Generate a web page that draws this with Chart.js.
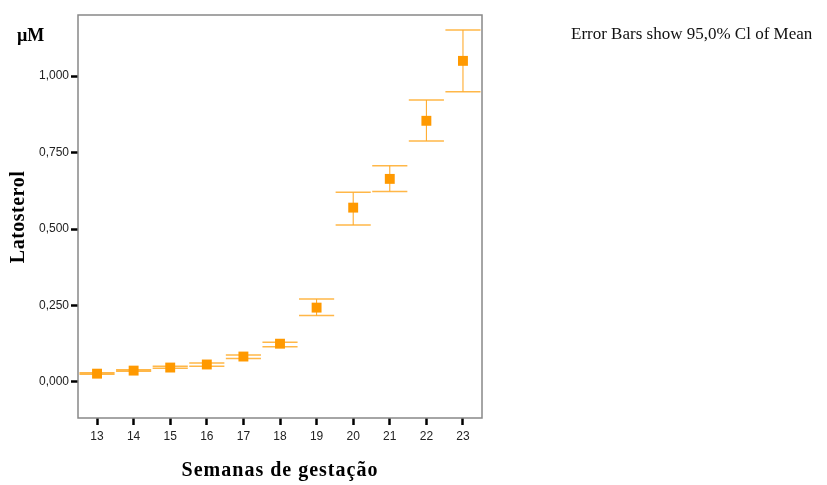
<!DOCTYPE html>
<html>
<head>
<meta charset="utf-8">
<script src="https://cdn.jsdelivr.net/npm/chart.js@4"></script>
<style>
  html, body { margin: 0; padding: 0; background: #fff; }
  #wrap { width: 827px; height: 485px; position: relative; }
</style>
</head>
<body>
<div id="wrap"><canvas id="latChart" width="827" height="485"></canvas></div>
<script>
// weeks of gestation and latosterol means with 95% CI
var weeks = [13, 14, 15, 16, 17, 18, 19, 20, 21, 22, 23];
var means = [0.027, 0.037, 0.047, 0.057, 0.083, 0.125, 0.243, 0.570, 0.664, 0.854, 1.050];
var lower = [0.025, 0.035, 0.045, 0.051, 0.077, 0.115, 0.217, 0.513, 0.623, 0.788, 0.949];
var upper = [0.030, 0.040, 0.051, 0.062, 0.088, 0.130, 0.271, 0.620, 0.707, 0.922, 1.151];
var yTicks = [0, 0.25, 0.5, 0.75, 1.0];

var orange = '#FF9900';

var errorBars = {
  id: 'errorBars',
  beforeDatasetsDraw: function(chart) {
    var ctx = chart.ctx, xs = chart.scales.x, ys = chart.scales.y;
    ctx.save();
    for (var i = 0; i < weeks.length; i++) {
      var x = xs.getPixelForValue(weeks[i]);
      var x0 = xs.getPixelForValue(weeks[i] - 0.48);
      var x1 = xs.getPixelForValue(weeks[i] + 0.48);
      var yl = ys.getPixelForValue(lower[i]);
      var yu = ys.getPixelForValue(upper[i]);
      ctx.strokeStyle = 'rgba(255,153,0,0.9)';
      ctx.lineWidth = 1;
      ctx.beginPath();
      ctx.moveTo(x, yl); ctx.lineTo(x, yu);
      ctx.stroke();
      ctx.strokeStyle = 'rgba(255,170,40,0.85)';
      ctx.lineWidth = 1.5;
      ctx.beginPath();
      ctx.moveTo(x0, yl); ctx.lineTo(x1, yl);
      ctx.moveTo(x0, yu); ctx.lineTo(x1, yu);
      ctx.stroke();
    }
    ctx.restore();
  },
  afterDraw: function(chart) {
    var ctx = chart.ctx, a = chart.chartArea;
    ctx.save();
    ctx.strokeStyle = '#888';
    ctx.lineWidth = 1.5;
    ctx.strokeRect(a.left, a.top, a.right - a.left, a.bottom - a.top);
    ctx.fillStyle = '#000';
    ctx.font = 'bold 18px "Liberation Serif", serif';
    ctx.textAlign = 'left';
    ctx.textBaseline = 'middle';
    ctx.fillText('µM', 17, 36);
    ctx.font = 'bold 20px "Liberation Serif", serif';
    ctx.textAlign = 'center';
    ctx.letterSpacing = '1px';
    ctx.fillText('Semanas de gestação', 280, 471);
    ctx.letterSpacing = '0.5px';
    ctx.translate(19, 217);
    ctx.rotate(-Math.PI / 2);
    ctx.fillText('Latosterol', 0, 0);
    ctx.restore();
    ctx.save();
    ctx.fillStyle = '#111';
    ctx.font = '17px "Liberation Serif", serif';
    ctx.textAlign = 'left';
    ctx.textBaseline = 'middle';
    ctx.fillText('Error Bars show 95,0% Cl of Mean', 571, 35);
    ctx.restore();
  }
};

new Chart(document.getElementById('latChart').getContext('2d'), {
  type: 'scatter',
  data: {
    datasets: [{
      label: 'Latosterol',
      data: weeks.map(function(w, i) { return { x: w, y: means[i] }; }),
      pointStyle: 'rect',
      pointRadius: 7,
      backgroundColor: orange,
      borderColor: orange,
      borderWidth: 0
    }]
  },
  options: {
    responsive: false,
    animation: false,
    layout: { padding: { left: 0, right: 345, top: 15, bottom: 0 } },
    plugins: { legend: { display: false }, tooltip: { enabled: false } },
    scales: {
      x: {
        type: 'linear',
        min: 12.48, max: 23.52,
        afterBuildTicks: function(s) { s.ticks = weeks.map(function(v) { return { value: v }; }); },
        afterFit: function(s) { s.height = 67; },
        border: { display: false },
        grid: { drawOnChartArea: false, tickLength: 7, tickColor: '#000', tickWidth: 2.5 },
        ticks: { color: '#222', font: { family: '"Liberation Sans", Arial, sans-serif', size: 12 }, padding: 4 }
      },
      y: {
        min: -0.118, max: 1.2,
        afterBuildTicks: function(s) { s.ticks = yTicks.map(function(v) { return { value: v }; }); },
        afterFit: function(s) { s.width = 78; },
        border: { display: false },
        grid: { drawOnChartArea: false, tickLength: 7, tickColor: '#000', tickWidth: 2.5 },
        ticks: {
          color: '#222', padding: 2,
          font: { family: '"Liberation Sans", Arial, sans-serif', size: 12 },
          callback: function(v) { return v.toFixed(3).replace('.', ','); }
        }
      }
    }
  },
  plugins: [errorBars]
});
</script>
</body>
</html>
